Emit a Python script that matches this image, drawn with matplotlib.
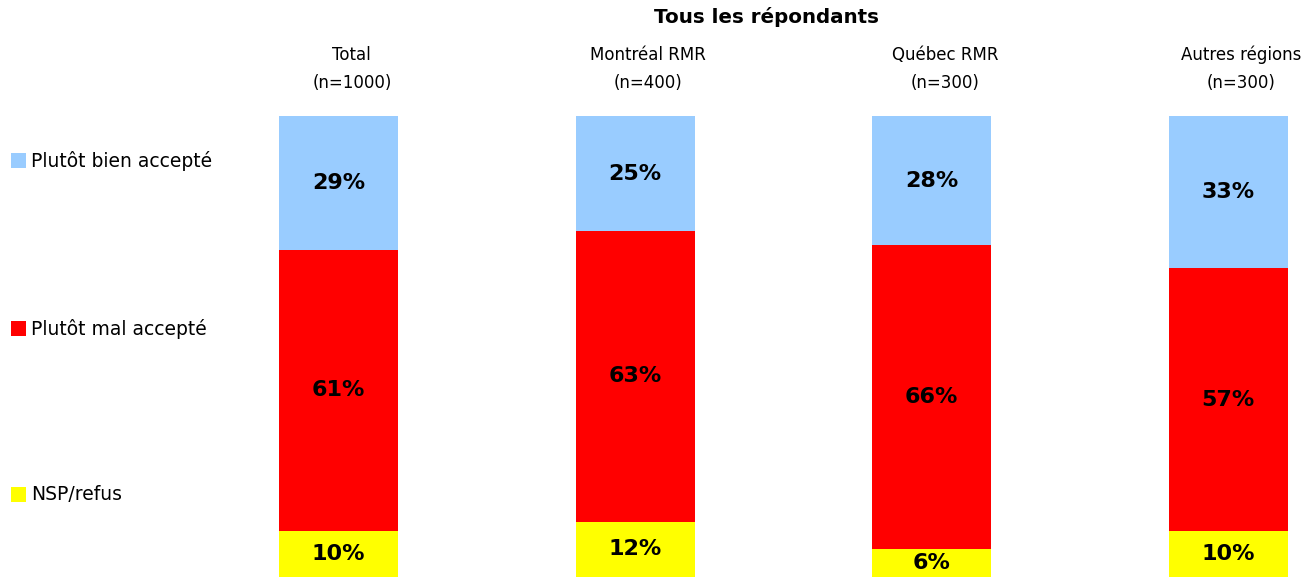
import numpy as np
import matplotlib.pyplot as plt
from matplotlib.patches import Rectangle

# donnees
regions = ['Total', 'Montréal RMR', 'Québec RMR', 'Autres régions']
effectifs = ['(n=1000)', '(n=400)', '(n=300)', '(n=300)']
series = ['Plutôt bien accepté', 'Plutôt mal accepté', 'NSP/refus']
nsp = [10, 12, 6, 10]
mal = [61, 63, 66, 57]
bien = [29, 25, 28, 33]
couleurs = {'NSP/refus': '#FFFF00', 'Plutôt mal accepté': '#FF0000',
            'Plutôt bien accepté': '#99CCFF'}

W, H = 1312, 577
fig = plt.figure(figsize=(W / 100, H / 100), dpi=100)
plt.rcParams['font.family'] = ['DejaVu Sans']

# axe: x=0 au pixel 338.5, ~296.5 px par categorie
x0, pas = 338.5, 296.5
left_px = 200
ax = fig.add_axes([left_px / W, 0, 1 - left_px / W, 461 / H])
ax.set_xlim((left_px - x0) / pas, (W - x0) / pas)
ax.set_ylim(0, 100)
ax.axis('off')

x = np.arange(len(regions))
larg = 119 / pas
bas = np.zeros(len(regions))
for nom, vals in [('NSP/refus', nsp), ('Plutôt mal accepté', mal),
                  ('Plutôt bien accepté', bien)]:
    vals = np.array(vals, dtype=float)
    ax.bar(x, vals, larg, bottom=bas, color=couleurs[nom], linewidth=0)
    for xi, b, v in zip(x, bas, vals):
        ax.text(xi, b + v / 2, f'{int(v)}%', ha='center', va='center',
                fontsize=16, fontweight='bold', color='black')
    bas += vals

# en-tetes des colonnes
for xi, r, n in zip(x, regions, effectifs):
    ax.text(xi + 0.045, 100 + 61 * 100 / 461, r, ha='center', va='center',
            fontsize=12, clip_on=False)
    ax.text(xi + 0.045, 100 + 33 * 100 / 461, n, ha='center', va='center',
            fontsize=12, clip_on=False)

fig.text(767 / W, 1 - 17 / H, 'Tous les répondants', ha='center', va='center',
         fontsize=14.3, fontweight='bold')

# legende a gauche
for nom, yp in zip(series, [161, 329, 495]):
    fig.add_artist(Rectangle((11 / W, 1 - (yp + 7) / H), 15 / W, 15 / H,
                             transform=fig.transFigure,
                             facecolor=couleurs[nom], linewidth=0))
    fig.text(31 / W, 1 - yp / H, nom, ha='left', va='center', fontsize=13.5)

fig.savefig('out.png', dpi=100)
